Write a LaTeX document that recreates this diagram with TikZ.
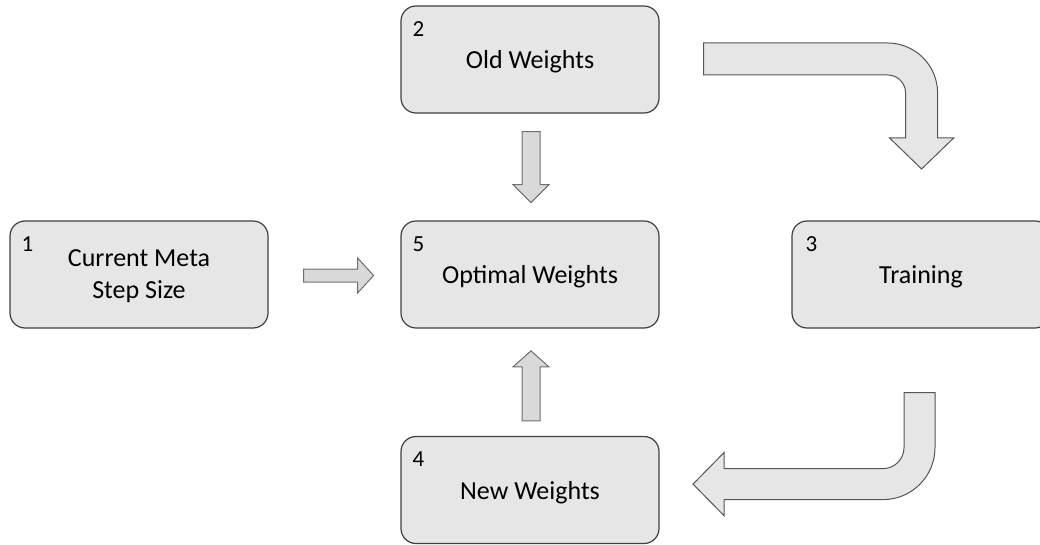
\documentclass[tikz,border=0pt]{standalone}
\usepackage{fontspec}
\setmainfont{Carlito}
\usetikzlibrary{calc}

\definecolor{boxfill}{HTML}{E6E6E6}
\definecolor{boxline}{HTML}{3F3F3F}
\definecolor{arrowfill}{HTML}{D9D9D9}
\definecolor{arrowline}{HTML}{6E6E6E}
\definecolor{bendfill}{HTML}{E6E6E6}
\definecolor{bendline}{HTML}{555555}

\tikzset{
  stagebox/.style={draw=boxline, fill=boxfill, line width=1.2pt,
    rounded corners=15pt, minimum width=258pt, minimum height=107pt,
    align=center, inner sep=0pt, text depth=0pt,
    font=\fontsize{26}{32}\selectfont},
  stagenum/.style={anchor=base west, inner sep=0pt,
    font=\fontsize{23}{26}\selectfont},
  straightarrow/.style={draw=arrowline, fill=arrowfill, line width=1pt, line join=miter},
  bentarrow/.style={draw=bendline, fill=bendfill, line width=1pt, line join=miter},
}

\begin{document}
\begin{tikzpicture}[x=1pt, y=-1pt]
\useasboundingbox (0,0) rectangle (1040,545);

% stages
\node[stagebox] (b1) at (139,274.5) {Current Meta\\Step Size};
\node[stagebox] (b2) at (530,59.5) {Old Weights};
\node[stagebox] (b3) at (921,274.5) {Training};
\node[stagebox] (b4) at (530,490) {New Weights};
\node[stagebox] (b5) at (530,274.5) {Optimal Weights};

% stage numbers
\node[stagenum] (n1) at ($(b1.north west)+(12,31)$) {1};
\node[stagenum] (n2) at ($(b2.north west)+(12,31)$) {2};
\node[stagenum] (n3) at ($(b3.north west)+(14,31)$) {3};
\node[stagenum] (n4) at ($(b4.north west)+(12,31)$) {4};
\node[stagenum] (n5) at ($(b5.north west)+(12,31)$) {5};

% step size -> optimal weights
\draw[straightarrow] (b1.east) ++(35,-5.5) -- ++(54,0) -- ++(0,-11)
  -- ++(16,17.5) -- ++(-16,17.5) -- ++(0,-11) -- ++(-54,0) -- cycle;

% old weights -> optimal weights
\draw[straightarrow] (b2.south) ++(-8,18) -- ++(0,53) -- ++(-9,0)
  -- ++(18,18) -- ++(18,-18) -- ++(-9,0) -- ++(0,-53) -- cycle;

% new weights -> optimal weights
\draw[straightarrow] (b4.north) ++(-8,-15) -- ++(0,-54) -- ++(-9,0)
  -- ++(18,-16) -- ++(18,16) -- ++(-9,0) -- ++(0,54) -- cycle;

% old weights -> training
\draw[bentarrow] (b2.east) ++(44,-16.5) -- ++(184,0)
  .. controls +(27.6,0) and +(0,-27.6) .. ++(50,50)
  -- ++(0,45) -- ++(16,0) -- ++(-32,31) -- ++(-32,-31) -- ++(16,0)
  -- ++(0,-45)
  .. controls +(0,-9.94) and +(9.94,0) .. ++(-18,-18)
  -- ++(-184,0) -- cycle;

% training -> new weights
\draw[bentarrow] (b3.south) ++(14,64) -- ++(0,55)
  .. controls +(0,28.72) and +(28.72,0) .. ++(-52,52)
  -- ++(-159,0) -- ++(0,16) -- ++(-31,-31.5) -- ++(31,-31.5) -- ++(0,16)
  -- ++(159,0)
  .. controls +(11.6,0) and +(0,11.6) .. ++(21,-21)
  -- ++(0,-55) -- cycle;
\end{tikzpicture}
\end{document}
